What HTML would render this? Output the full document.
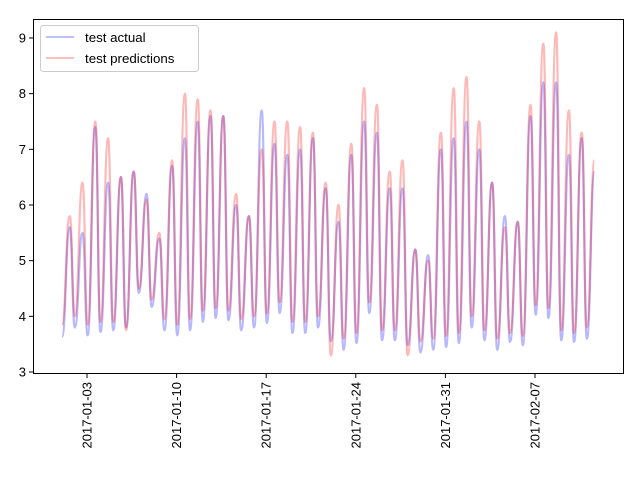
<!DOCTYPE html>
<html><head><meta charset="utf-8"><style>
body{margin:0;background:#fff}
text{font-family:"Liberation Sans","DejaVu Sans",sans-serif;fill:#000}
</style></head><body>
<svg id="chart" width="640" height="480" xmlns="http://www.w3.org/2000/svg">
<rect width="640" height="480" fill="#fff"/>
<g id="series"></g>
<rect x="33.5" y="19.5" width="590" height="354" fill="none" stroke="#000" stroke-width="1"/>
<g id="yaxis"></g>
<g id="xaxis"></g>
<g>
<rect x="40.5" y="25.5" width="158" height="46" rx="3" fill="#fff" fill-opacity="0.8" stroke="#ccc"/>
<line x1="46" y1="37" x2="74" y2="37" stroke="#00f" stroke-opacity="0.25" stroke-width="2"/>
<text x="85" y="42" font-size="13.3">test actual</text>
<line x1="46" y1="58" x2="74" y2="58" stroke="#f00" stroke-opacity="0.25" stroke-width="2"/>
<text x="85" y="63" font-size="13.3">test predictions</text>
</g>
</svg>
<script>
const actualPeaks=[5.6,5.5,7.4,6.4,6.5,6.6,6.2,5.4,6.7,7.2,7.5,7.6,7.6,6.0,5.8,7.7,7.1,6.9,7.0,7.2,6.3,5.7,6.9,7.5,7.3,6.3,6.3,5.2,5.1,7.0,7.2,7.5,7.0,6.4,5.8,5.7,7.6,8.2,8.2,6.9,7.2,6.6];
const predPeaks=[5.8,6.4,7.5,7.2,6.5,6.6,6.1,5.5,6.8,8.0,7.9,7.7,7.6,6.2,5.8,7.0,7.5,7.5,7.4,7.3,6.4,6.0,7.1,8.1,7.8,6.6,6.8,5.2,5.0,7.3,8.1,8.3,7.5,6.4,5.6,5.7,7.8,8.9,9.1,7.7,7.3,6.8];
const actualTroughs=[3.63,3.8,3.66,3.72,3.75,3.8,4.42,4.17,3.75,3.66,3.75,3.9,3.97,3.93,3.75,3.8,3.88,4.06,3.7,3.7,3.8,3.55,3.4,3.52,4.06,3.57,3.57,3.48,3.35,3.4,3.45,3.52,3.8,3.57,3.4,3.54,3.48,4.03,3.97,3.57,3.54,3.6];
const predTroughs=[3.85,4.0,3.85,3.9,3.9,3.75,4.5,4.3,3.95,3.85,3.95,4.1,4.15,4.1,3.95,4.0,4.05,4.25,3.9,3.9,4.0,3.3,3.6,3.7,4.25,3.75,3.75,3.3,3.55,3.6,3.65,3.7,4.0,3.75,3.6,3.7,3.65,4.2,4.15,3.75,3.7,3.8];
const yTicks=[3,4,5,6,7,8,9];
const xTickDays=[2,9,16,23,30,37];
const xTickLabels=["2017-01-03","2017-01-10","2017-01-17","2017-01-24","2017-01-31","2017-02-07"];
const NS="http://www.w3.org/2000/svg";
function xs(d){return 61.4+12.8*d;}
function ys(v){return 372-(v-3)*55.67;}
function mk(t,a){const e=document.createElementNS(NS,t);for(const k in a)e.setAttribute(k,a[k]);return e;}
function pathFor(tr,pk){
  const pts=[];
  for(let i=0;i<tr.length;i++){pts.push([xs(i+0.05),ys(tr[i])]);pts.push([xs(i+0.65),ys(pk[i])]);}
  let d="M"+pts[0][0]+","+pts[0][1];
  for(let i=1;i<pts.length;i++){const p=pts[i-1],q=pts[i];const m=(q[0]-p[0])*0.5;d+=" C"+(p[0]+m)+","+p[1]+" "+(q[0]-m)+","+q[1]+" "+q[0]+","+q[1];}
  return d;
}
const s=document.getElementById("series");
const pa=mk("path",{d:pathFor(actualTroughs,actualPeaks),fill:"none",stroke:"#00f","stroke-opacity":"0.28","stroke-width":"2.2"});


s.appendChild(pa);
const pp=mk("path",{d:pathFor(predTroughs,predPeaks),fill:"none",stroke:"#f00","stroke-opacity":"0.28","stroke-width":"2.2"});


s.appendChild(pp);
const ya=document.getElementById("yaxis");
yTicks.forEach(v=>{const y=ys(v);
  const l=mk("line",{x1:29,x2:33.5,y1:y,y2:y,stroke:"#000"});
  
  
  ya.appendChild(l);
  const t=mk("text",{x:26,y:y+4.5,"font-size":"13","text-anchor":"end"});t.textContent=v;
  
  
  ya.appendChild(t);});
const xa=document.getElementById("xaxis");
xTickDays.forEach((d,i)=>{const x=xs(d);
  const l=mk("line",{x1:x,x2:x,y1:373.5,y2:378,stroke:"#000"});
  
  
  xa.appendChild(l);
  const t=mk("text",{x:0,y:0,"font-size":"13","text-anchor":"end",transform:"translate("+(x+4.5)+",382) rotate(-90)"});t.textContent=xTickLabels[i];
  
  
  xa.appendChild(t);});
</script>
</body></html>
